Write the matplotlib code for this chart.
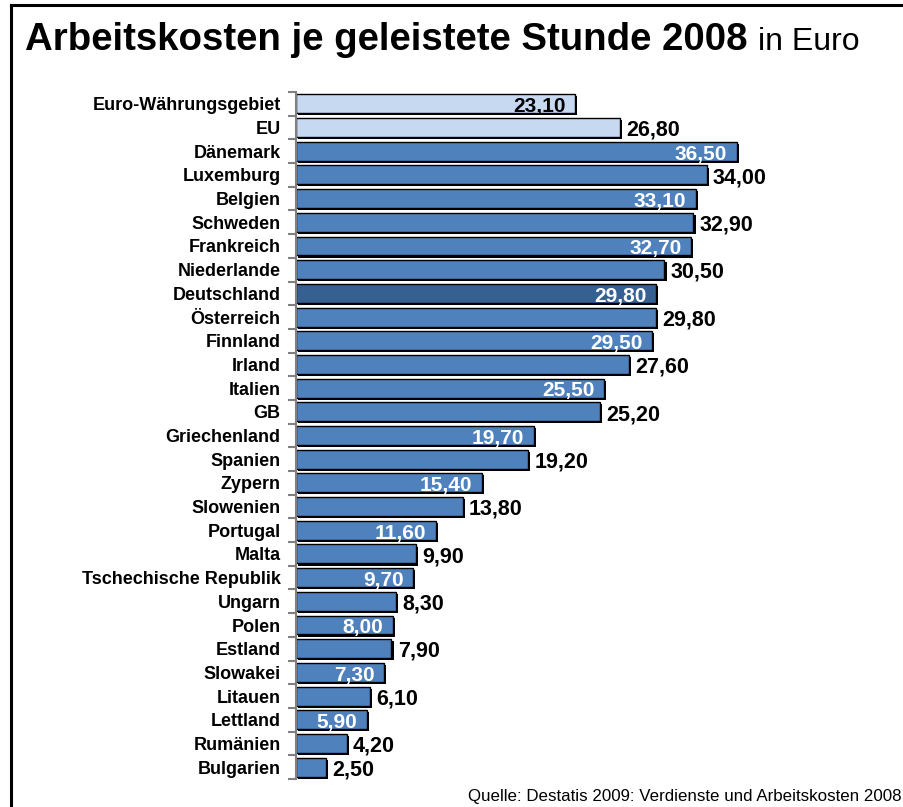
import matplotlib
matplotlib.use('Agg')
from matplotlib import pyplot as plt
from matplotlib import patheffects as pe
import numpy as np

countries = ['Euro-Währungsgebiet', 'EU', 'Dänemark', 'Luxemburg', 'Belgien', 'Schweden',
             'Frankreich', 'Niederlande', 'Deutschland', 'Österreich', 'Finnland', 'Irland',
             'Italien', 'GB', 'Griechenland', 'Spanien', 'Zypern', 'Slowenien', 'Portugal',
             'Malta', 'Tschechische Republik', 'Ungarn', 'Polen', 'Estland', 'Slowakei',
             'Litauen', 'Lettland', 'Rumänien', 'Bulgarien']
costs = [23.10, 26.80, 36.50, 34.00, 33.10, 32.90, 32.70, 30.50, 29.80, 29.80, 29.50, 27.60,
         25.50, 25.20, 19.70, 19.20, 15.40, 13.80, 11.60, 9.90, 9.70, 8.30, 8.00, 7.90, 7.30,
         6.10, 5.90, 4.20, 2.50]

plt.rcParams['font.family'] = ['Liberation Sans', 'DejaVu Sans']

W, H = 904, 807
fig = plt.figure(figsize=(W / 100, H / 100), dpi=100)

# outer frame (open on the right and bottom, like the cropped original)
fig.add_artist(plt.Line2D([11 / W, 11 / W], [0, 1 - 5 / H], color='black', lw=2.2))
fig.add_artist(plt.Line2D([11 / W, 1], [1 - 5 / H, 1 - 5 / H], color='black', lw=2.2))

n = len(countries)
top, bottom = 92, 779
ax = fig.add_axes([296 / W, 1 - bottom / H, (W - 296) / W, (bottom - top) / H])
scale = 12.08
ax.set_xlim(0, (W - 296) / scale)
ax.set_ylim(n - 0.5, -0.5)

colors = []
for c in countries:
    if c in ('Euro-Währungsgebiet', 'EU'):
        colors.append('#C6D9F1')
    elif c == 'Deutschland':
        colors.append('#366092')
    else:
        colors.append('#4F81BD')

y = np.arange(n)
bars = ax.barh(y, costs, height=0.8, color=colors, edgecolor='black', linewidth=1.0)
for b in bars:
    b.set_path_effects([pe.SimplePatchShadow(offset=(1.5, -1.5), shadow_rgbFace='black', alpha=1),
                        pe.Normal()])

for i, v in enumerate(costs):
    s = '{:.2f}'.format(v).replace('.', ',')
    if i % 2 == 0 and i != n - 1:
        col = 'black' if i == 0 else 'white'
        ax.annotate(s, (v, i), xytext=(-7, -2), textcoords='offset points', ha='right',
                    va='center', fontsize=15, fontweight='bold', color=col)
    else:
        ax.annotate(s, (v, i), xytext=(4.5, -2), textcoords='offset points', ha='left',
                    va='center', fontsize=15.5, fontweight='bold', color='black')

ax.set_yticks(y)
ax.set_yticklabels(countries, fontsize=13, fontweight='bold')
ax.tick_params(axis='y', which='major', length=0, pad=11)
ax.set_yticks(np.arange(n + 1) - 0.5, minor=True)
ax.tick_params(axis='y', which='minor', length=6, width=1.5, color='#808080')
ax.set_xticks([])
for side in ('top', 'right', 'bottom'):
    ax.spines[side].set_visible(False)
ax.spines['left'].set_color('#808080')
ax.spines['left'].set_linewidth(1.5)
ax.patch.set_alpha(0)

t1 = fig.text(25 / W, 1 - 50 / H, 'Arbeitskosten je geleistete Stunde 2008', fontsize=27.6,
              fontweight='bold', ha='left', va='baseline')
fig.canvas.draw()
bb = t1.get_window_extent()
fig.text((bb.x1 + 11) / W, 1 - 50 / H, 'in Euro', fontsize=23, ha='left', va='baseline')

fig.text(468 / W, 1 - 801 / H, 'Quelle: Destatis 2009: Verdienste und Arbeitskosten 2008',
         fontsize=12.2, ha='left', va='baseline')

fig.savefig('out.png', dpi=100)
